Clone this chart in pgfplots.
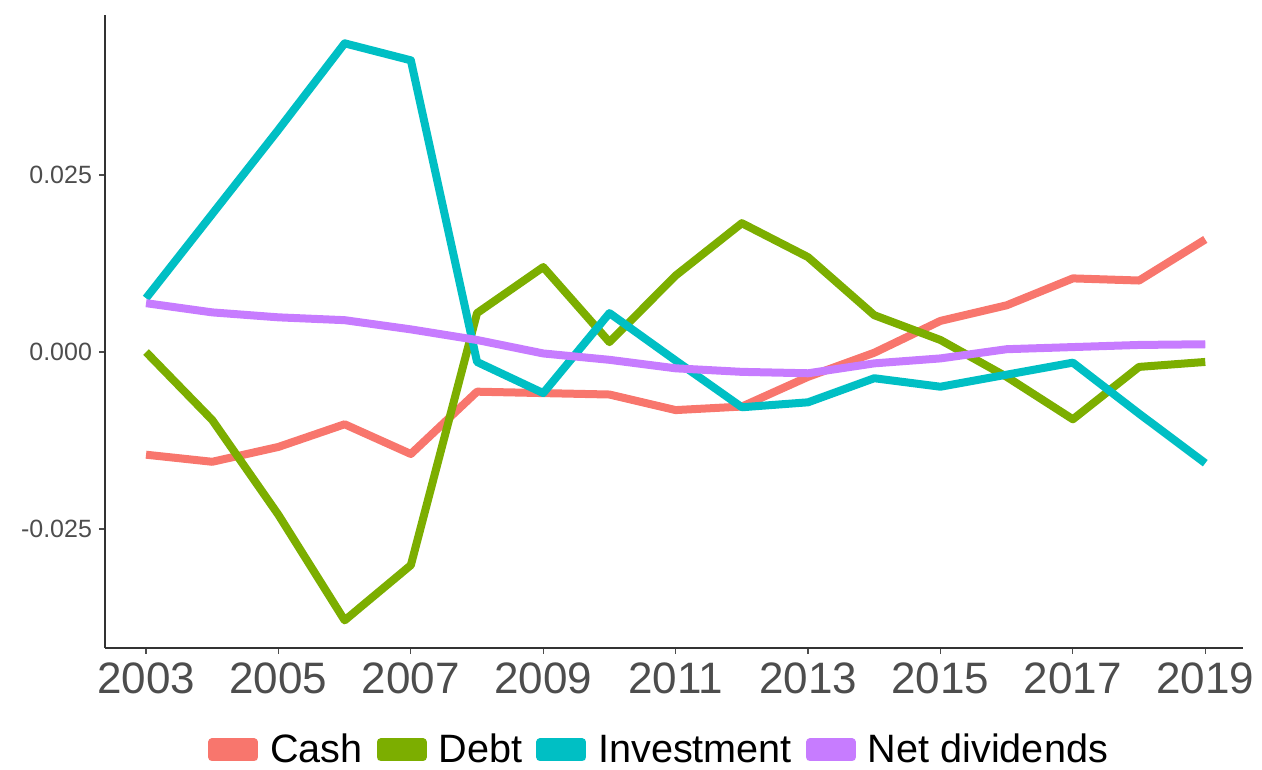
\documentclass[border=0pt]{standalone}
\usepackage{pgfplots}
\pgfplotsset{compat=1.18}
\usepackage{fontspec}
\setmainfont{Liberation Sans}
\definecolor{cCash}{HTML}{F8766D}
\definecolor{cDebt}{HTML}{7CAE00}
\definecolor{cInv}{HTML}{00BFC4}
\definecolor{cNet}{HTML}{C77CFF}
\definecolor{tickgrey}{HTML}{4D4D4D}
\begin{document}
\begin{tikzpicture}
\useasboundingbox (-52.5pt,-61pt) rectangle (578.5pt,324pt);
\begin{axis}[
  scale only axis,
  width=569pt, height=316.5pt,
  xmin=2002.38, xmax=2019.57,
  ymin=-0.0418, ymax=0.0476,
  axis x line*=bottom, axis y line*=left,
  axis line style={line width=0.8pt, black!80},
  xtick={2003,2005,...,2019},
  xticklabels={2003,2005,2007,2009,2011,2013,2015,2017,2019},
  ytick={-0.025,0,0.025},
  yticklabels={-0.025,0.000,0.025},
  tick align=outside,
  major tick length=3pt,
  tick style={line width=0.6pt, tickgrey},
  x tick label style={font=\fontsize{22}{26}\selectfont, text=tickgrey, yshift=-1pt},
  y tick label style={font=\fontsize{12.5}{15}\selectfont, text=tickgrey},
  legend columns=4,
  legend style={at={(0.486,-0.161)}, anchor=center, draw=none,
    font=\fontsize{19.8}{23}\selectfont,
    nodes={inner xsep=0pt, inner ysep=2pt},
    /tikz/every odd column/.append style={column sep=6pt},
    /tikz/every even column/.append style={column sep=7pt}},
  legend image code/.code={\fill[#1] (0pt,-3.75pt) rectangle (21pt,3.75pt);},
  every axis plot/.append style={line width=4pt, line join=round},
]
\addplot[cCash] coordinates {(2003,-0.0145)(2004,-0.0155)(2005,-0.0134)(2006,-0.0102)(2007,-0.0144)(2008,-0.0056)(2009,-0.0058)(2010,-0.0060)(2011,-0.0082)(2012,-0.0077)(2013,-0.0035)(2014,-0.0001)(2015,0.0044)(2016,0.0066)(2017,0.0104)(2018,0.0101)(2019,0.0159)};
\addlegendentry{Cash}
\addplot[cDebt] coordinates {(2003,0.0000)(2004,-0.0096)(2005,-0.0230)(2006,-0.0379)(2007,-0.0301)(2008,0.0055)(2009,0.0120)(2010,0.0014)(2011,0.0108)(2012,0.0182)(2013,0.0134)(2014,0.0052)(2015,0.0017)(2016,-0.0035)(2017,-0.0095)(2018,-0.0021)(2019,-0.0014)};
\addlegendentry{Debt}
\addplot[cInv] coordinates {(2003,0.0076)(2004,0.0195)(2005,0.0314)(2006,0.0436)(2007,0.0412)(2008,-0.0014)(2009,-0.0058)(2010,0.0055)(2011,-0.0012)(2012,-0.0078)(2013,-0.0071)(2014,-0.0037)(2015,-0.0049)(2016,-0.0032)(2017,-0.0015)(2018,-0.0087)(2019,-0.0157)};
\addlegendentry{Investment}
\addplot[cNet] coordinates {(2003,0.0069)(2004,0.0056)(2005,0.0049)(2006,0.0045)(2007,0.0032)(2008,0.0017)(2009,-0.0002)(2010,-0.0011)(2011,-0.0023)(2012,-0.0028)(2013,-0.0030)(2014,-0.0016)(2015,-0.0009)(2016,0.0004)(2017,0.0007)(2018,0.0010)(2019,0.0011)};
\addlegendentry{Net dividends}
\end{axis}
\end{tikzpicture}
\end{document}
